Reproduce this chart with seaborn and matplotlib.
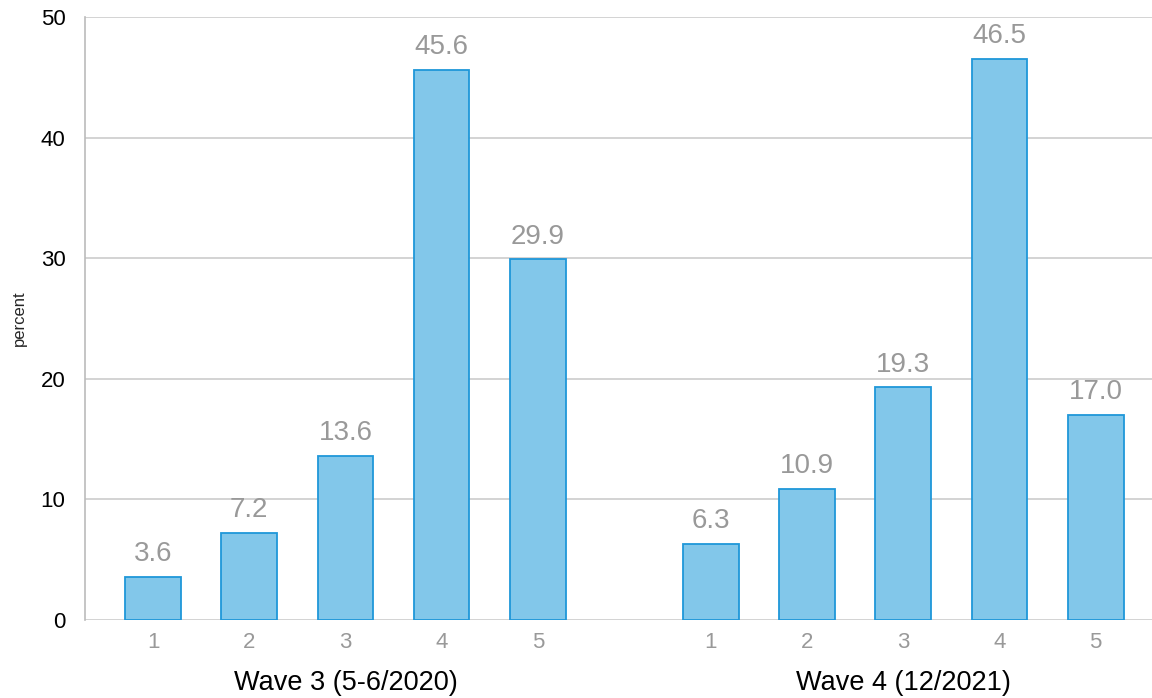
import matplotlib
matplotlib.use("Agg")
import matplotlib.pyplot as plt
import seaborn as sns
import pandas as pd

waves = ["Wave 3 (5-6/2020)", "Wave 4 (12/2021)"]
categories = ["1", "2", "3", "4", "5"]
wave3 = [3.6, 7.2, 13.6, 45.6, 29.9]
wave4 = [6.3, 10.9, 19.3, 46.5, 17.0]
yticks = [0, 10, 20, 30, 40, 50]

gap = 0.8
pos = [i for i in range(5)] + [i + 5 + gap for i in range(5)]
df = pd.DataFrame({
    "pos": pos,
    "value": wave3 + wave4,
    "cat": categories + categories,
    "wave": [waves[0]] * 5 + [waves[1]] * 5,
})

sns.set_style("white")
plt.rcParams["font.family"] = ["Liberation Sans", "DejaVu Sans"]

fig = plt.figure(figsize=(11.52, 6.98), dpi=100)
ax = fig.add_axes([85 / 1152, 1 - 620 / 698, 1 - 85 / 1152, (620 - 17) / 698])

sns.barplot(data=df, x="pos", y="value", native_scale=True, width=0.58,
            color="#82c7ea", edgecolor="#1f97d9", linewidth=1.3,
            saturation=1, ax=ax, errorbar=None)

for p, v in zip(df["pos"], df["value"]):
    ax.annotate(f"{v:.1f}", (p, v), xytext=(0, 7), textcoords="offset points",
                ha="center", va="bottom", fontsize=20, color="#999999")

ax.set_xlim(-0.707, 10.385)
ax.set_ylim(0, 50)
ax.set_yticks(yticks)
ax.set_yticklabels([str(t) for t in yticks], fontsize=16, color="black")
ax.yaxis.grid(True, color="#cccccc", linewidth=1.2)
ax.set_axisbelow(True)
ax.tick_params(axis="y", length=11, width=1.2, color="#cccccc", pad=3)
ax.set_xticks(pos)
ax.set_xticklabels(df["cat"], fontsize=16, color="#999999")
ax.tick_params(axis="x", length=0, pad=9)
ax.set_xlabel("")
ax.set_ylabel("percent", fontsize=12, labelpad=10)

for s in ["top", "right", "bottom"]:
    ax.spines[s].set_visible(False)
ax.spines["left"].set_color("#bbbbbb")
ax.spines["left"].set_linewidth(1.2)

for i, w in enumerate(waves):
    center = sum(pos[i * 5:(i + 1) * 5]) / 5
    ax.text(center, -0.105, w, transform=ax.get_xaxis_transform(),
            ha="center", va="center", fontsize=19.5, color="black")

fig.savefig("out.png", dpi=100)
